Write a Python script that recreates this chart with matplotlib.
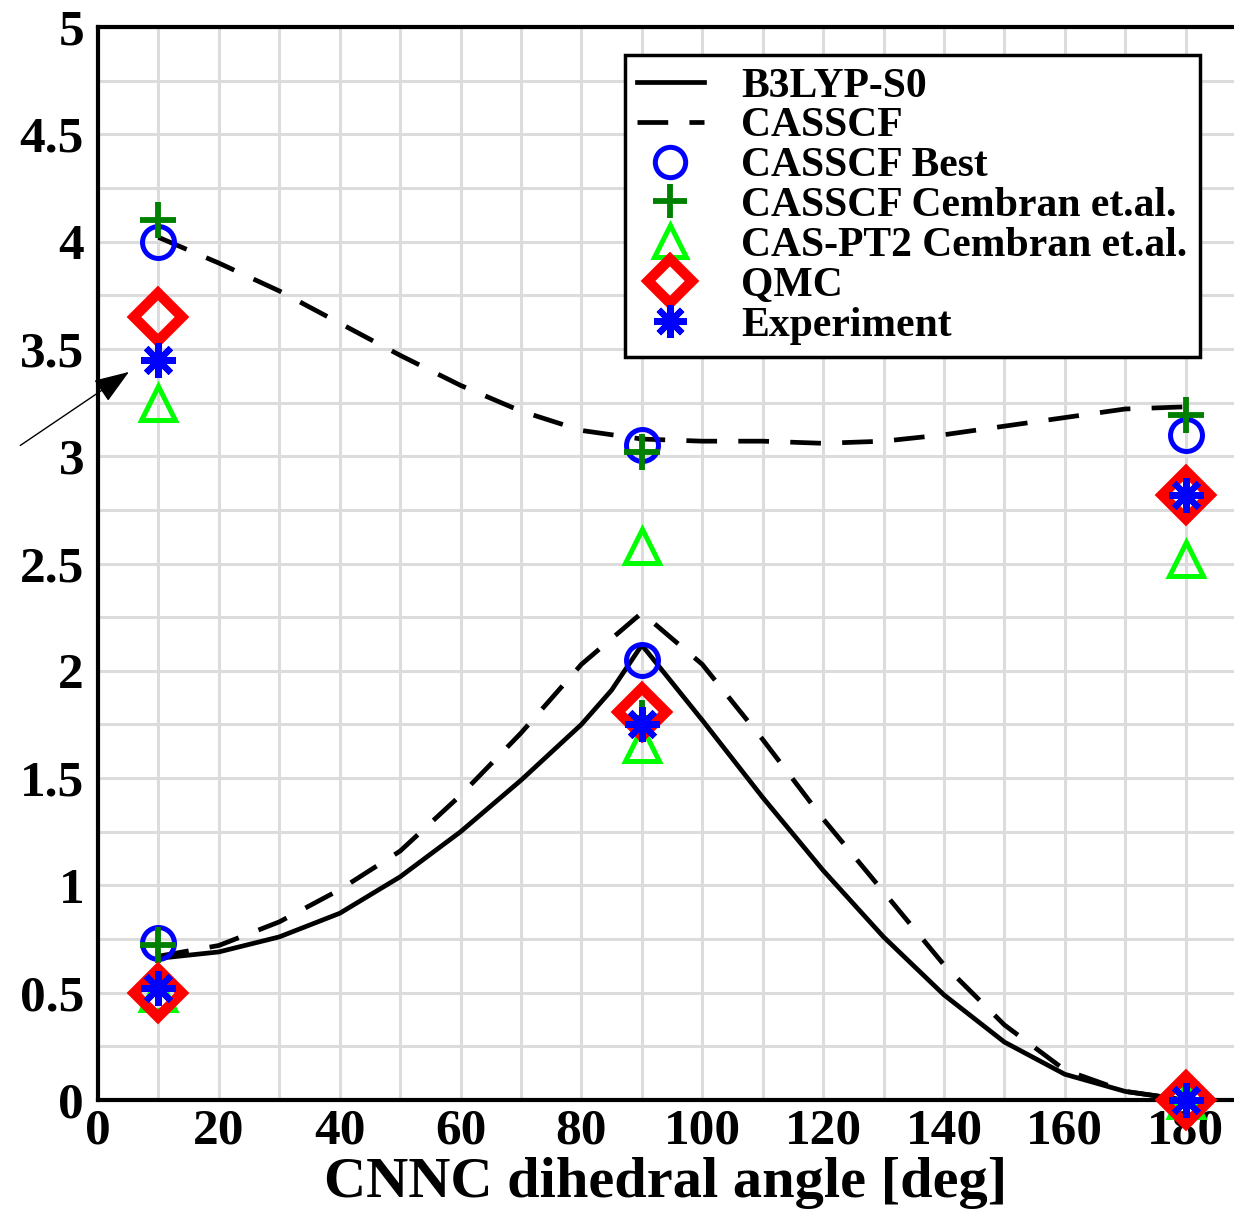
import numpy as np
import matplotlib
matplotlib.use("Agg")
import matplotlib.pyplot as plt

# ---- data ----
angle_curve = [10, 20, 30, 40, 50, 60, 70, 80, 85, 90, 100, 110, 120, 130, 140, 150, 160, 170, 180]
b3lyp_s0 = [0.66, 0.69, 0.76, 0.87, 1.04, 1.25, 1.49, 1.75, 1.91, 2.12, 1.77, 1.41, 1.07, 0.76, 0.49, 0.27, 0.12, 0.04, 0.0]

angle_cas = [10, 20, 30, 40, 50, 60, 70, 80, 90, 100, 110, 120, 130, 140, 150, 160, 170, 180]
casscf_s0 = [0.67, 0.72, 0.83, 0.98, 1.16, 1.42, 1.71, 2.03, 2.27, 2.03, 1.68, 1.31, 0.97, 0.63, 0.35, 0.14, 0.04, 0.0]
casscf_s1 = [4.02, 3.90, 3.77, 3.62, 3.47, 3.33, 3.21, 3.12, 3.08, 3.07, 3.07, 3.06, 3.07, 3.10, 3.14, 3.18, 3.22, 3.23]

pt_angles = [10, 90, 180]
casscf_best_s0 = [0.73, 2.05, 0.0]
casscf_best_s1 = [4.00, 3.05, 3.10]
cembran_casscf_s0 = [0.72, 1.78, 0.0]
cembran_casscf_s1 = [4.10, 3.02, 3.19]
cembran_pt2_s0 = [0.50, 1.66, 0.0]
cembran_pt2_s1 = [3.25, 2.58, 2.52]
qmc_s0 = [0.50, 1.81, 0.0]
qmc_s1 = [3.65, None, 2.82]
exp_s0 = [0.52, 1.75, 0.0]
exp_s1 = [3.45, None, 2.82]

xticks = [0, 20, 40, 60, 80, 100, 120, 140, 160, 180]
yticks = [0, 0.5, 1, 1.5, 2, 2.5, 3, 3.5, 4, 4.5, 5]
ytick_labels = ["0", "0.5", "1", "1.5", "2", "2.5", "3", "3.5", "4", "4.5", "5"]

def pts(xs, ys):
    px, py = [], []
    for x, y in zip(xs, ys):
        if y is not None:
            px.append(x); py.append(y)
    return px, py

plt.rcParams['font.family'] = ['Liberation Serif', 'DejaVu Serif']
plt.rcParams['font.weight'] = 'bold'

fig = plt.figure(figsize=(12.34, 12.09), dpi=100)
ax = fig.add_axes([98/1234, 1-1100/1209, 1-98/1234, (1100-27)/1209])

ax.set_xlim(0, 188)
ax.set_ylim(0, 5)
ax.set_xticks(np.arange(0, 190, 10), minor=True)
ax.set_yticks(np.arange(0, 5.01, 0.25), minor=True)
ax.grid(True, which='minor', color='#dcdcdc', linewidth=2.2, zorder=0)
ax.grid(True, which='major', color='#dcdcdc', linewidth=2.2, zorder=0)
ax.set_axisbelow(True)

lw = 3.4
ax.plot(angle_curve, b3lyp_s0, color='black', lw=lw, label='B3LYP-S0', zorder=3)
dash = (0, (6.5, 4.5))
ax.plot(angle_cas, casscf_s0, color='black', lw=lw, linestyle=dash, label='CASSCF', zorder=3)
ax.plot(angle_cas, casscf_s1, color='black', lw=lw, linestyle=dash, zorder=3)

blue = '#0000ff'
x, y = pts(pt_angles, casscf_best_s0)
ax.plot(x, y, 'o', ms=23, mfc='none', mec=blue, mew=3.6, label='CASSCF Best', zorder=9, clip_on=False)
x, y = pts(pt_angles, casscf_best_s1)
ax.plot(x, y, 'o', ms=23, mfc='none', mec=blue, mew=3.6, zorder=9, clip_on=False)

x, y = pts(pt_angles, cembran_casscf_s0)
ax.plot(x, y, '+', ms=26, mec='#008000', mew=4.2, label='CASSCF Cembran et.al.', zorder=9.1, clip_on=False)
x, y = pts(pt_angles, cembran_casscf_s1)
ax.plot(x, y, '+', ms=26, mec='#008000', mew=4.2, zorder=9.1, clip_on=False)

x, y = pts(pt_angles, cembran_pt2_s0)
ax.plot(x, y, '^', ms=24, mfc='none', mec='#00ff00', mew=3.6, label='CAS-PT2 Cembran et.al.', zorder=9.1, clip_on=False)
x, y = pts(pt_angles, cembran_pt2_s1)
ax.plot(x, y, '^', ms=24, mfc='none', mec='#00ff00', mew=3.6, zorder=9.1, clip_on=False)

x, y = pts(pt_angles, qmc_s0)
ax.plot(x, y, 'D', ms=24, mfc='none', mec='#ff0000', mew=7.5, label='QMC', zorder=9.2, clip_on=False)
x, y = pts(pt_angles, qmc_s1)
ax.plot(x, y, 'D', ms=24, mfc='none', mec='#ff0000', mew=7.5, zorder=9.2, clip_on=False)

star = (8, 2, 0)
x, y = pts(pt_angles, exp_s0)
ax.plot(x, y, marker=star, ls='none', ms=25, mec=blue, mew=4.5, label='Experiment', zorder=9.3, clip_on=False)
x, y = pts(pt_angles, exp_s1)
ax.plot(x, y, marker=star, ls='none', ms=25, mec=blue, mew=4.5, zorder=9.3, clip_on=False)

ax.set_xticks(xticks)
ax.set_xticklabels([str(t) for t in xticks])
ax.set_yticks(yticks)
ax.set_yticklabels(ytick_labels)
ax.tick_params(axis='both', which='both', length=0, labelsize=37)
ax.tick_params(axis='x', pad=6)
ax.tick_params(axis='y', pad=10)
for lab in ax.get_xticklabels() + ax.get_yticklabels():
    lab.set_fontweight('bold')

ax.set_xlabel('CNNC dihedral angle [deg]', fontsize=42, fontweight='bold', labelpad=2)

for s in ['left', 'bottom', 'top']:
    ax.spines[s].set_linewidth(3)
    ax.spines[s].set_color('black')
    ax.spines[s].set_zorder(8)
ax.spines['right'].set_visible(False)

leg = ax.legend(loc='upper right', bbox_to_anchor=(0.970, 0.974),
                prop={'weight': 'bold', 'size': 30}, frameon=True, fancybox=False,
                framealpha=1, edgecolor='black', labelspacing=0.04, handlelength=1.6,
                handletextpad=0.9, borderpad=0.3, borderaxespad=0, markerscale=0.95)
leg.get_frame().set_linewidth(2.5)
leg.set_zorder(10)

ax.annotate('', xy=(5.5, 3.40), xycoords='data', xytext=(18/1234, 1-447/1209),
            textcoords='figure fraction',
            arrowprops=dict(arrowstyle='-|>,head_length=2.2,head_width=0.8', color='black', lw=1.0),
            annotation_clip=False, zorder=9)

fig.savefig('out.png', dpi=100)
